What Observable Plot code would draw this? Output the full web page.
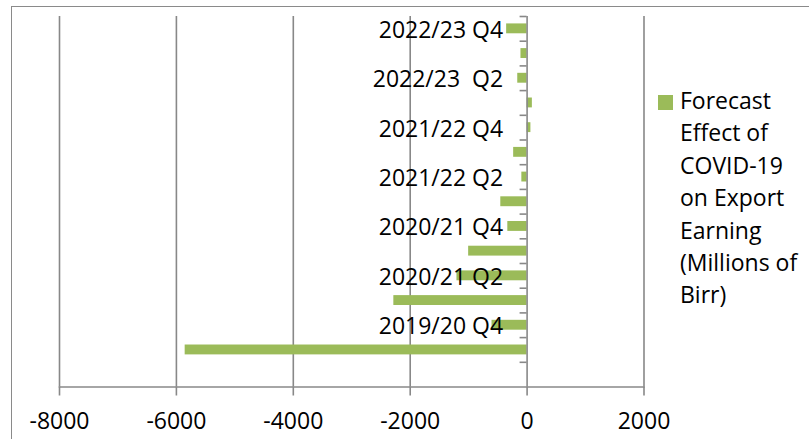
<!DOCTYPE html>
<html><head><meta charset="utf-8">
<script src="https://cdn.jsdelivr.net/npm/d3@7"></script>
<script src="https://cdn.jsdelivr.net/npm/@observablehq/plot@0.6"></script>
<style>
html,body{margin:0;padding:0;background:#fff;}
#wrap{position:relative;width:809px;height:439px;overflow:hidden;font-family:"Open Sans",sans-serif;}
#frame{position:absolute;left:11px;top:6px;width:830px;height:470px;border-top:1.6px solid #8a8a8a;border-left:1.6px solid #8a8a8a;box-sizing:border-box;}
#chart{position:absolute;left:0;top:0;}
#swatch{position:absolute;left:658px;top:95px;width:15px;height:15px;background:#9BBB59;}
#legend{position:absolute;left:680px;top:84px;font-size:23px;line-height:32.4px;white-space:nowrap;color:#000;}
svg text{white-space:pre;}
</style>
</head><body>
<div id="wrap"><div id="frame"></div><div id="chart"></div><div id="swatch"></div><div id="legend"></div></div>
<script>
// Categories, bottom to top (first is an empty category)
const quarters = ["", "2019/20 Q3", "2019/20 Q4", "2020/21 Q1", "2020/21 Q2", "2020/21 Q3", "2020/21 Q4",
  "2021/22 Q1", "2021/22 Q2", "2021/22 Q3", "2021/22 Q4", "2022/23 Q1", "2022/23 Q2", "2022/23 Q3", "2022/23 Q4"];
// Forecast effect (millions of Birr); null = no bar
const effect = [null, -5850, -600, -2280, -1200, -1000, -330, -450, -90, -230, 65, 90, -160, -105, -350];
// Displayed category labels (every other category)
const shownLabels = {"2019/20 Q4": "2019/20 Q4", "2020/21 Q2": "2020/21 Q2", "2020/21 Q4": "2020/21 Q4",
  "2021/22 Q2": "2021/22 Q2", "2021/22 Q4": "2021/22 Q4", "2022/23 Q2": "2022/23  Q2", "2022/23 Q4": "2022/23 Q4"};
const xTicks = [-8000, -6000, -4000, -2000, 0, 2000];
const legendLines = ["Forecast", "Effect of", "COVID-19", "on Export", "Earning", "(Millions of", "Birr)"];

const data = quarters.map((q, i) => ({quarter: q, value: effect[i]})).filter(d => d.value != null);
const labeled = quarters.filter(q => q in shownLabels);

const W = 809, H = 439, mt = 16, mb = 52.5, ml = 59, mr = 165.5;
const step = (H - mt - mb) / quarters.length;
const barInset = step * 0.3;
const gray = "#888888";

const chart = Plot.plot({
  width: W, height: H,
  marginTop: mt, marginBottom: mb, marginLeft: ml, marginRight: mr,
  style: {fontFamily: "Open Sans", fontSize: "23px", background: "transparent", color: "black", overflow: "visible"},
  x: {domain: [-8000, 2000], ticks: xTicks, label: null},
  y: {domain: quarters.slice().reverse(), padding: 0, round: false, axis: null, label: null},
  marks: [
    Plot.ruleX(xTicks.filter(t => t !== 0), {stroke: gray, strokeWidth: 1.6}),
    Plot.barX(data, {x: "value", y: "quarter", fill: "#9BBB59", insetTop: barInset, insetBottom: barInset}),
    Plot.ruleX([0], {stroke: gray, strokeWidth: 1.6}),
    Plot.ruleY(quarters, {y: d => d, x1: 0, x2: -120, dy: -step / 2, stroke: gray, strokeWidth: 1.6}),
    Plot.frame({anchor: "bottom", stroke: gray, strokeWidth: 1.6}),
    Plot.axisX({ticks: xTicks, tickSize: 9, tickPadding: 17, stroke: gray, strokeWidth: 1.6, fill: "black", label: null, tickFormat: d => String(d)}),
    Plot.text(labeled, {x: 0, y: d => d, text: d => shownLabels[d], textAnchor: "end", dx: -24, dy: 1.5, fill: "black"})
  ]
});
document.getElementById("chart").appendChild(chart);
document.getElementById("legend").innerHTML = legendLines.join("<br>");
</script>
</body></html>
